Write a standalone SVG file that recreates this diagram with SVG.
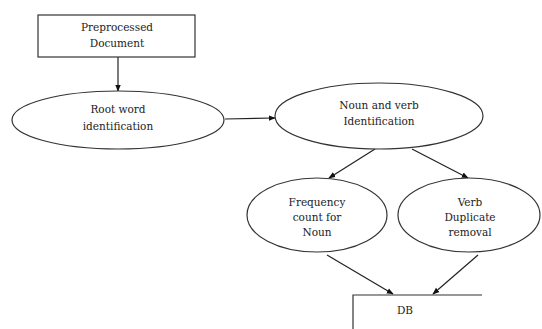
<svg xmlns="http://www.w3.org/2000/svg" width="542" height="329" viewBox="0 0 542 329">
<style>
.s{fill:#fff;stroke:#333;stroke-width:1.2}
.t{font-family:"DejaVu Serif","Liberation Serif",serif;font-size:10.5px;fill:#222;text-anchor:middle}
.c{stroke:#222;stroke-width:1.2;fill:none;marker-end:url(#a)}
</style>
<defs>
<marker id="a" viewBox="0 0 10 10" refX="9" refY="5" markerWidth="7" markerHeight="7" orient="auto" markerUnits="userSpaceOnUse">
<path d="M0,1 L10,5 L0,9 z" fill="#111"/>
</marker>
</defs>
<rect width="542" height="329" fill="#fff"/>
<g id="connectors">
<line class="c" x1="118" y1="57" x2="118" y2="91"/>
<line class="c" x1="225" y1="119" x2="275" y2="118"/>
<line class="c" x1="375" y1="149" x2="329" y2="178"/>
<line class="c" x1="412" y1="149" x2="468" y2="178"/>
<line class="c" x1="327" y1="255" x2="393" y2="294"/>
<line class="c" x1="478" y1="255" x2="433" y2="294"/>
</g>
<g id="preprocessed">
<rect class="s" x="38" y="15" width="157" height="42"/>
<text class="t" x="117" y="31">Preprocessed</text>
<text class="t" x="117" y="47">Document</text>
</g>
<g id="rootword">
<ellipse class="s" cx="118" cy="120" rx="106" ry="29"/>
<text class="t" x="118" y="113">Root word</text>
<text class="t" x="118" y="130">identification</text>
</g>
<g id="nounverb">
<ellipse class="s" cx="379" cy="116" rx="104" ry="33"/>
<text class="t" x="379" y="109">Noun and verb</text>
<text class="t" x="379" y="125">Identification</text>
</g>
<g id="frequency">
<ellipse class="s" cx="317" cy="215" rx="70" ry="37"/>
<text class="t" x="317" y="206">Frequency</text>
<text class="t" x="317" y="221">count for</text>
<text class="t" x="317" y="236">Noun</text>
</g>
<g id="verbdup">
<ellipse class="s" cx="469" cy="215" rx="71" ry="37"/>
<text class="t" x="470" y="206">Verb</text>
<text class="t" x="470" y="221">Duplicate</text>
<text class="t" x="470" y="236">removal</text>
</g>
<g id="db">
<path class="s" d="M482,295 H353 V329" fill="none"/>
<text class="t" x="405" y="314">DB</text>
</g>
</svg>
